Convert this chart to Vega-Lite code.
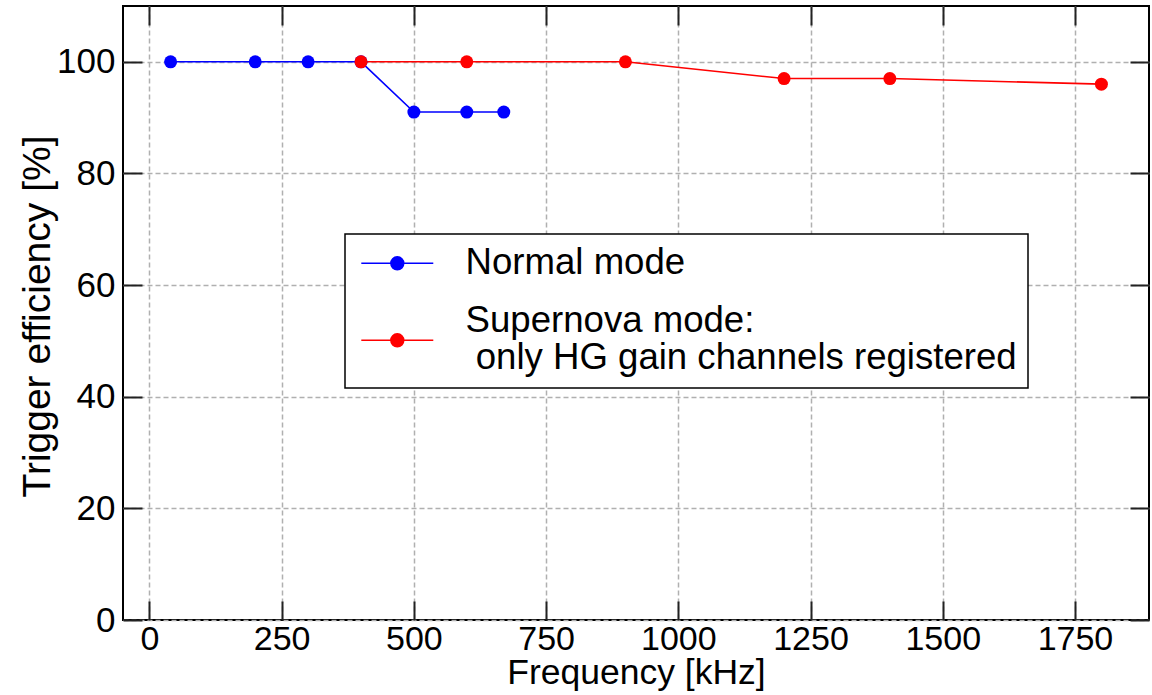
{
  "$schema": "https://vega.github.io/schema/vega-lite/v6.json",
  "autosize": "none",
  "padding": {"left": 123, "top": 6, "right": 3, "bottom": 75},
  "width": 1026,
  "height": 614,
  "background": "white",
  "config": {
    "font": "Liberation Sans",
    "view": {"stroke": "black", "strokeWidth": 2},
    "axis": {
      "labelFont": "Liberation Sans",
      "titleFont": "Liberation Sans",
      "labelFontSize": 35,
      "titleFontSize": 36,
      "titleFontWeight": "normal",
      "labelColor": "black",
      "titleColor": "black",
      "tickColor": "#222222",
      "tickWidth": 2,
      "tickSize": -19,
      "domain": false,
      "gridColor": "#b0b0b0",
      "gridDash": [5, 3],
      "gridWidth": 1.5
    },
    "legend": {
      "orient": "none",
      "legendX": 222,
      "legendY": 228,
      "fillColor": "white",
      "strokeColor": "black",
      "strokeWidth": 1.5,
      "padding": 11,
      "labelFont": "Liberation Sans",
      "labelFontSize": 36.6,
      "labelColor": "black",
      "labelLimit": 800,
      "labelOffset": 73,
      "rowPadding": 21,
      "symbolType": "M-0.765,0L3.47,0M0.973,0A0.38,0.38,0,1,1,1.733,0A0.38,0.38,0,1,1,0.973,0Z",
      "symbolSize": 1156,
      "symbolStrokeWidth": 1.5,
      "symbolOpacity": 1
    }
  },
  "data": {
    "values": [
      {"series": "Normal mode", "freq": 40, "eff": 100},
      {"series": "Normal mode", "freq": 200, "eff": 100},
      {"series": "Normal mode", "freq": 300, "eff": 100},
      {"series": "Normal mode", "freq": 400, "eff": 100},
      {"series": "Normal mode", "freq": 500, "eff": 91},
      {"series": "Normal mode", "freq": 600, "eff": 91},
      {"series": "Normal mode", "freq": 670, "eff": 91},
      {"series": "Supernova mode", "freq": 400, "eff": 100},
      {"series": "Supernova mode", "freq": 600, "eff": 100},
      {"series": "Supernova mode", "freq": 900, "eff": 100},
      {"series": "Supernova mode", "freq": 1200, "eff": 97},
      {"series": "Supernova mode", "freq": 1400, "eff": 97},
      {"series": "Supernova mode", "freq": 1800, "eff": 96}
    ]
  },
  "resolve": {"axis": {"x": "independent", "y": "independent"}},
  "layer": [
    {
      "mark": {"type": "line", "strokeWidth": 1.6, "point": {"filled": true, "size": 169, "opacity": 1}},
      "encoding": {
        "x": {
          "field": "freq", "type": "quantitative",
          "scale": {"domain": [-50, 1890], "nice": false, "zero": false},
          "axis": {
            "title": "Frequency [kHz]",
            "format": "d",
            "values": [0, 250, 500, 750, 1000, 1250, 1500, 1750],
            "labelPadding": 21,
            "labelFontSize": 34,
            "titleFontSize": 35.5,
            "titleX": 513, "titleY": 63, "titleBaseline": "alphabetic", "titleAlign": "center",
            "labelFlush": false
          }
        },
        "y": {
          "field": "eff", "type": "quantitative",
          "scale": {"domain": [0, 110], "nice": false},
          "axis": {
            "title": "Trigger efficiency [%]",
            "format": "d",
            "values": [0, 20, 40, 60, 80, 100],
            "labelPadding": 27,
            "titleFontSize": 39,
            "titleX": -74, "titleY": 310, "titleBaseline": "alphabetic", "titleAlign": "center", "titleAngle": -90,
            "labelFlush": false
          }
        },
        "color": {
          "field": "series", "type": "nominal",
          "scale": {"domain": ["Normal mode", "Supernova mode"], "range": ["#0000ff", "#ff0000"]},
          "legend": {
            "title": null,
            "labelExpr": "datum.label == 'Normal mode' ? 'Normal mode' : ['Supernova mode:', '\u200b\u00a0only HG gain channels registered']",
            "encode": {
              "labels": {
                "dy": {"value": {"signal": "datum.index == 1 ? -19 : 0"}},
                "lineHeight": {"value": 37},
                "update": {
                  "dy": {"signal": "datum.index == 1 ? -19 : 0"},
                  "lineHeight": {"value": 37}
                }
              }
            }
          }
        }
      }
    },
    {
      "mark": {"type": "point", "opacity": 0},
      "encoding": {
        "x": {
          "field": "freq", "type": "quantitative",
          "axis": {"orient": "top", "title": null, "labels": false, "grid": false, "values": [0, 250, 500, 750, 1000, 1250, 1500, 1750]}
        },
        "y": {
          "field": "eff", "type": "quantitative",
          "axis": {"orient": "right", "title": null, "labels": false, "grid": false, "values": [0, 20, 40, 60, 80, 100]}
        }
      }
    }
  ]
}
